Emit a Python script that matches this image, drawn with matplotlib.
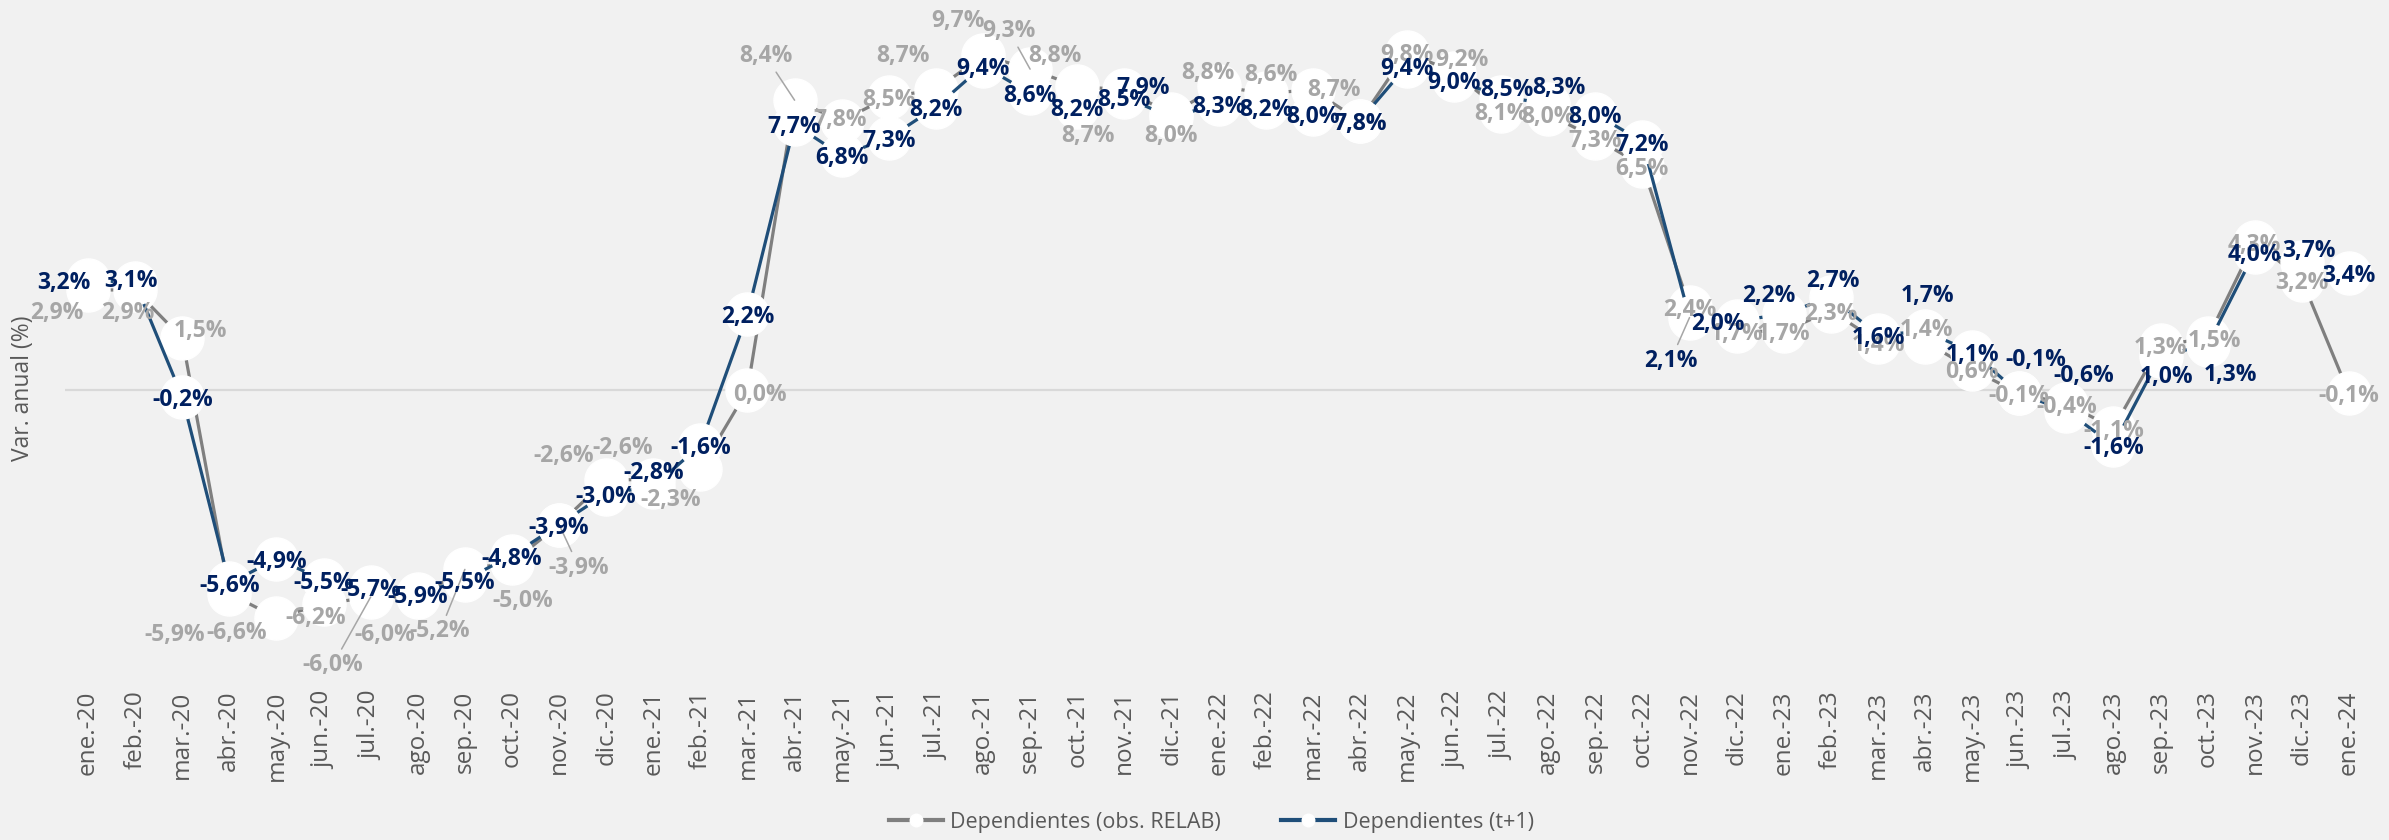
import numpy as np
import matplotlib
matplotlib.use('Agg')
from matplotlib import pyplot as plt
from matplotlib.lines import Line2D

plt.rcParams['font.family'] = ['Open Sans', 'DejaVu Sans']

months = ['ene.-20', 'feb.-20', 'mar.-20', 'abr.-20', 'may.-20', 'jun.-20', 'jul.-20',
          'ago.-20', 'sep.-20', 'oct.-20', 'nov.-20', 'dic.-20',
          'ene.-21', 'feb.-21', 'mar.-21', 'abr.-21', 'may.-21', 'jun.-21', 'jul.-21',
          'ago.-21', 'sep.-21', 'oct.-21', 'nov.-21', 'dic.-21',
          'ene.-22', 'feb.-22', 'mar.-22', 'abr.-22', 'may.-22', 'jun.-22', 'jul.-22',
          'ago.-22', 'sep.-22', 'oct.-22', 'nov.-22', 'dic.-22',
          'ene.-23', 'feb.-23', 'mar.-23', 'abr.-23', 'may.-23', 'jun.-23', 'jul.-23',
          'ago.-23', 'sep.-23', 'oct.-23', 'nov.-23', 'dic.-23',
          'ene.-24']

# Dependientes (obs. RELAB)
relab = [2.9, 2.9, 1.5, -5.9, -6.6, -6.2, -6.0, -6.0, -5.2, -5.0, -3.9, -2.6,
         -2.6, -2.3, 0.0, 8.4, 7.8, 8.5, 8.7, 9.7, 9.3, 8.8, 8.7, 8.0,
         8.8, 8.6, 8.7, 7.8, 9.8, 9.2, 8.1, 8.0, 7.3, 6.5, 2.4, 1.7,
         1.7, 2.3, 1.4, 1.4, 0.6, -0.1, -0.4, -1.1, 1.3, 1.5, 4.3, 3.2,
         -0.1]

# Dependientes (t+1)
t1 = [3.2, 3.1, -0.2, -5.6, -4.9, -5.5, -5.7, -5.9, -5.5, -4.8, -3.9, -3.0,
      -2.8, -1.6, 2.2, 7.7, 6.8, 7.3, 8.2, 9.4, 8.6, 8.2, 8.5, 7.9,
      8.3, 8.2, 8.0, 7.8, 9.4, 9.0, 8.5, 8.3, 8.0, 7.2, 2.1, 2.0,
      2.2, 2.7, 1.6, 1.7, 1.1, -0.1, -0.6, -1.6, 1.0, 1.3, 4.0, 3.7,
      3.4]

# label placement (pixels, x right / y up) where the label was moved off its point
grey_offsets = {0: (-31, -20), 1: (-7, -20), 2: (18, 10), 3: (-55, -38), 4: (-40, -12),
                5: (-8, -11), 6: (-38, -65), 7: (-33, -35), 8: (-25, -59), 9: (11, -35),
                10: (20, -40), 11: (-42, 27), 12: (-31, 35), 13: (-30, -28), 14: (12, -2),
                15: (-29, 47), 16: (-2, 4), 18: (-33, 37), 19: (-25, 37), 20: (-21, 41),
                21: (-22, 33), 22: (-36, -43), 23: (0, -19), 24: (-11, 16), 25: (5, 21),
                26: (21, 3), 29: (8, 16), 39: (1, 15), 45: (7, 0)}
blue_offsets = {0: (-24, 0), 1: (-4, 5), 12: (0, 17), 23: (-28, 32), 30: (6, 10),
                31: (11, 19), 34: (-19, -40), 35: (-19, 0), 36: (-15, 21), 37: (2, 19),
                39: (2, 38), 41: (17, 36), 42: (17, 38), 44: (6, -18), 45: (23, -27),
                47: (7, 14)}
grey_leaders = [6, 8, 10, 15, 20]
blue_leaders = [34]

bg = '#F1F1F1'
grey_line = '#7F7F7F'
blue_line = '#1F4E79'
grey_text = '#A6A6A6'
blue_text = '#002060'
axis_text = '#595959'

fig = plt.figure(figsize=(23.89, 8.4), dpi=100, facecolor=bg)
ax = fig.add_axes([0.027, 0.1948, 0.9661, 0.7927])
ax.set_facecolor(bg)

x = np.arange(len(months))
ax.axhline(0, color='#D9D9D9', lw=1.6, zorder=1)
ax.plot(x, relab, color=grey_line, lw=2.3, marker='o', ms=31,
        mfc='white', mec='white', zorder=2)
ax.plot(x, t1, color=blue_line, lw=2.3, marker='o', ms=31,
        mfc='white', mec='white', zorder=3)


def fmt(v):
    return f'{v:.1f}%'.replace('.', ',')


def put_labels(values, offsets, leaders, color, z):
    for i, v in enumerate(values):
        dx, dy = offsets.get(i, (0, 0))
        kw = {}
        if i in leaders:
            kw['arrowprops'] = dict(arrowstyle='-', color=grey_text, lw=1.1,
                                    shrinkA=1, shrinkB=0)
        ax.annotate(fmt(v), xy=(i, v), xytext=(dx, dy), textcoords='offset pixels',
                    ha='center', va='center_baseline', fontsize=16.5,
                    fontweight='bold', color=color, zorder=z,
                    annotation_clip=False, **kw)


put_labels(relab, grey_offsets, grey_leaders, grey_text, 5)
put_labels(t1, blue_offsets, blue_leaders, blue_text, 6)

ax.set_xlim(-0.5, len(months) - 0.5)
ax.set_ylim(-8.3, 11.0)
ax.set_xticks(x)
ax.set_xticklabels(months, rotation=90, fontsize=17.5, color=axis_text)
ax.tick_params(axis='x', length=0, pad=10)
ax.set_yticks([])
for s in ax.spines.values():
    s.set_visible(False)

fig.text(23 / 2389, 1 - 388 / 840, 'Var. anual (%)', rotation=90, ha='center',
         va='center', fontsize=16.5, color=axis_text)

handles = [Line2D([], [], color=grey_line, lw=3, marker='o', ms=9, mfc='white', mec='white'),
           Line2D([], [], color=blue_line, lw=3, marker='o', ms=9, mfc='white', mec='white')]
fig.legend(handles, ['Dependientes (obs. RELAB)', 'Dependientes (t+1)'],
           loc='center', bbox_to_anchor=(0.507, 0.021), ncol=2, frameon=False,
           fontsize=15.5, labelcolor=axis_text, handlelength=2.5,
           handletextpad=0.35, columnspacing=2.8)

fig.savefig('out.png', dpi=100, facecolor=bg)
